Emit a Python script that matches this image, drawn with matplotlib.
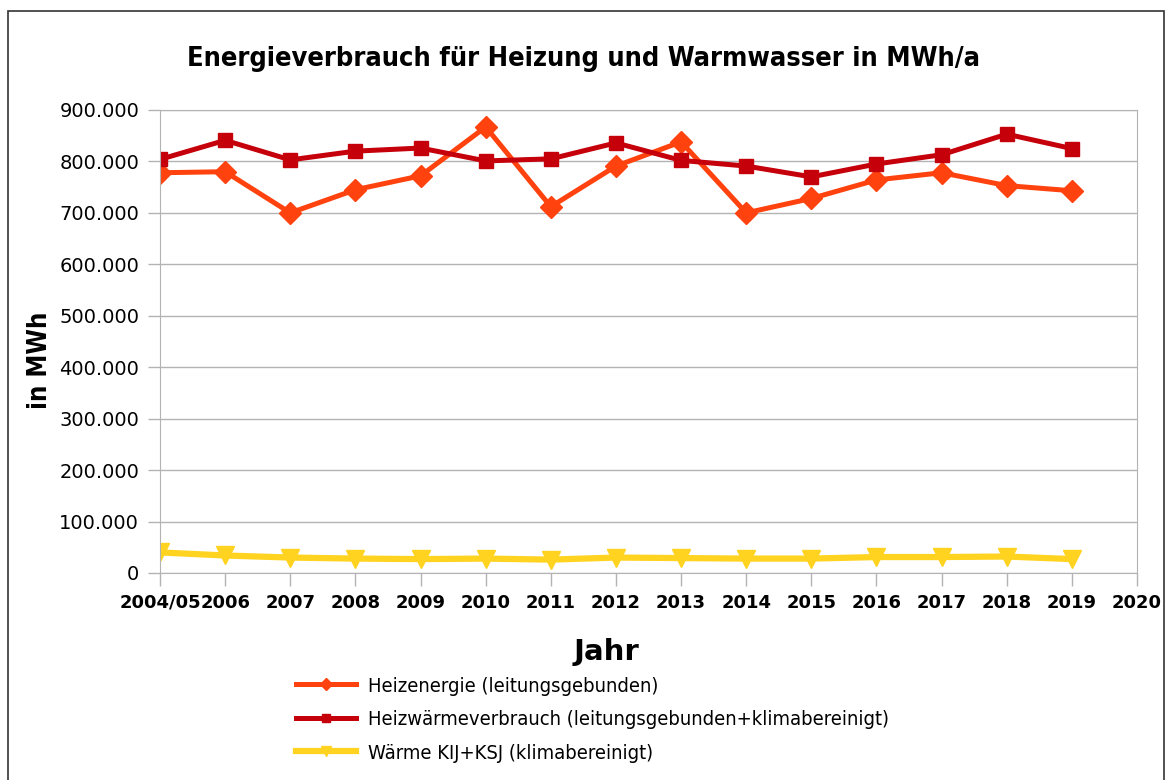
import numpy as np
import matplotlib

matplotlib.use("Agg")
import matplotlib.pyplot as plt
from matplotlib.patches import Rectangle
from matplotlib.ticker import FuncFormatter

# values (MWh)
years = ["2004/05", "2006", "2007", "2008", "2009", "2010", "2011", "2012",
         "2013", "2014", "2015", "2016", "2017", "2018", "2019", "2020"]
heizenergie = [778000, 780000, 700000, 745000, 772000, 867000, 712000, 791000,
               838000, 700000, 728000, 764000, 778000, 753000, 743000]
heizwaerme = [804000, 841000, 803000, 820000, 826000, 801000, 805000, 836000,
              802000, 791000, 770000, 795000, 813000, 853000, 825000]
waerme_kij_ksj = [40000, 34000, 30000, 28000, 27000, 28000, 26000, 30000,
                  29000, 28000, 28000, 31000, 31000, 32000, 27000]

labels = ["Heizenergie (leitungsgebunden)",
          "Heizwärmeverbrauch (leitungsgebunden+klimabereinigt)",
          "Wärme KIJ+KSJ (klimabereinigt)"]
colors = ["#ff420e", "#c5000b", "#ffd320"]

fig = plt.figure(figsize=(11.7, 7.8), dpi=100)
fig.patches.append(Rectangle((0.007, -0.01), 0.988, 0.996, transform=fig.transFigure,
                             fill=False, edgecolor="#333333", lw=1.2))
ax = fig.add_axes([0.1368, 0.2654, 0.8350, 0.5936])

x = np.arange(len(heizenergie))
ax.plot(x, heizenergie, "-D", color=colors[0], lw=3.6, ms=11, label=labels[0])
ax.plot(x, heizwaerme, "-s", color=colors[1], lw=3.6, ms=10, label=labels[1])
ax.plot(x, waerme_kij_ksj, "-v", color=colors[2], lw=4.5, ms=13, label=labels[2])

ax.set_xlim(0, len(years) - 1)
ax.set_ylim(0, 900000)
ax.set_xticks(np.arange(len(years)))
ax.set_xticklabels(years, fontsize=13, fontweight="bold")
ax.set_yticks(np.arange(0, 900001, 100000))
ax.yaxis.set_major_formatter(FuncFormatter(lambda v, p: f"{int(v):,}".replace(",", ".")))
for t in ax.get_yticklabels():
    t.set_fontsize(14)
ax.grid(axis="y", color="#b3b3b3", lw=1)
ax.set_axisbelow(True)
for s in ax.spines.values():
    s.set_color("#b3b3b3")
ax.tick_params(axis="both", color="#b3b3b3", length=9, width=1, pad=6)

fig.text(0.499, 0.925, "Energieverbrauch für Heizung und Warmwasser in MWh/a",
         ha="center", va="center", fontsize=19.5, fontweight="bold", fontstretch="condensed")
fig.text(0.034, 0.538, "in MWh", rotation=90, ha="center", va="center",
         fontsize=18.5, fontweight="bold", fontstretch="condensed")
fig.text(0.518, 0.164, "Jahr", ha="center", va="center", fontsize=21, fontweight="bold")

fig.legend(loc="upper left", bbox_to_anchor=(0.246, 0.143), frameon=False,
           prop={"size": 14.5, "stretch": "condensed"}, handlelength=3.0,
           handletextpad=0.6, labelspacing=0.72, markerscale=0.6, borderaxespad=0)

fig.savefig("out.png", dpi=100)
